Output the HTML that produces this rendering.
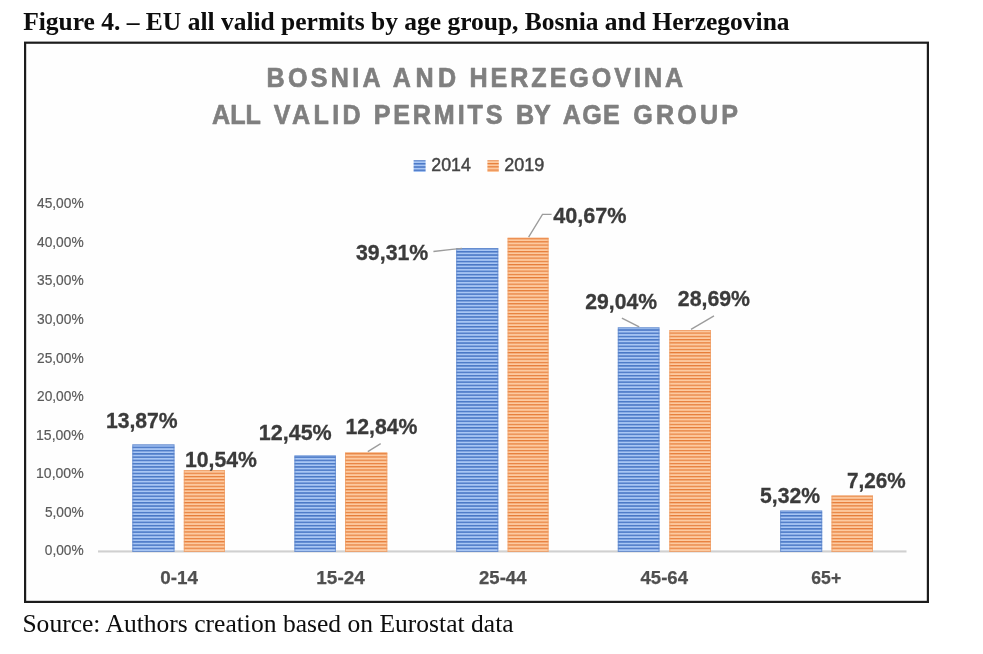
<!DOCTYPE html>
<html lang="en">
<head>
<meta charset="utf-8">
<title>Figure 4 - EU all valid permits by age group, Bosnia and Herzegovina</title>
<style>
html,body{margin:0;padding:0;background:#ffffff;}
body{width:983px;height:654px;overflow:hidden;}
svg{display:block;}
.serif{font-family:"Liberation Serif", "Times New Roman", serif;}
.sans{font-family:"Liberation Sans", Arial, sans-serif;}
</style>
</head>
<body>
<svg width="983" height="654" viewBox="0 0 983 654">
<defs>
<pattern id="pb" x="0" y="0" width="8" height="3.26" patternUnits="userSpaceOnUse"><rect x="0" y="0" width="8" height="3.26" fill="#a8c6f4"/><rect x="0" y="0" width="8" height="1.5" fill="#4a78c6"/></pattern>
<pattern id="po" x="0" y="0" width="8" height="3.26" patternUnits="userSpaceOnUse"><rect x="0" y="0" width="8" height="3.26" fill="#fdcaa0"/><rect x="0" y="0" width="8" height="1.2" fill="#e67c38"/></pattern>
<filter id="soft" x="-2%" y="-2%" width="104%" height="104%"><feGaussianBlur stdDeviation="0.55"/></filter>
</defs>
<rect x="0" y="0" width="983" height="654" fill="#ffffff"/>
<g id="all" filter="url(#soft)">
<rect x="25.1" y="42.7" width="902.8" height="559.2" fill="#fefefe" stroke="#1c1c1c" stroke-width="2.2"/>
<rect x="413.6" y="160.2" width="12" height="11.8" fill="url(#pb)"/>
<rect x="487.4" y="160.2" width="11.4" height="11.8" fill="url(#po)"/>
<rect x="98" y="550.4" width="808.5" height="2.1" fill="#d0d0d0"/>
<rect x="132.3" y="444.5" width="42.2" height="107.0" fill="url(#pb)"/>
<rect x="132.8" y="445.0" width="41.2" height="106.5" fill="none" stroke="#5f88cc" stroke-opacity="0.7" stroke-width="1"/>
<rect x="183.8" y="470.2" width="41.2" height="81.3" fill="url(#po)"/>
<rect x="184.3" y="470.7" width="40.2" height="80.8" fill="none" stroke="#f0a068" stroke-opacity="0.7" stroke-width="1"/>
<rect x="294.4" y="455.4" width="41.5" height="96.1" fill="url(#pb)"/>
<rect x="294.9" y="455.9" width="40.5" height="95.6" fill="none" stroke="#5f88cc" stroke-opacity="0.7" stroke-width="1"/>
<rect x="345.0" y="452.4" width="42.3" height="99.1" fill="url(#po)"/>
<rect x="345.5" y="452.9" width="41.3" height="98.6" fill="none" stroke="#f0a068" stroke-opacity="0.7" stroke-width="1"/>
<rect x="456.2" y="248.2" width="42.1" height="303.3" fill="url(#pb)"/>
<rect x="456.7" y="248.7" width="41.1" height="302.8" fill="none" stroke="#5f88cc" stroke-opacity="0.7" stroke-width="1"/>
<rect x="507.6" y="237.7" width="41.0" height="313.8" fill="url(#po)"/>
<rect x="508.1" y="238.2" width="40.0" height="313.3" fill="none" stroke="#f0a068" stroke-opacity="0.7" stroke-width="1"/>
<rect x="617.8" y="327.4" width="41.7" height="224.1" fill="url(#pb)"/>
<rect x="618.3" y="327.9" width="40.7" height="223.6" fill="none" stroke="#5f88cc" stroke-opacity="0.7" stroke-width="1"/>
<rect x="669.3" y="330.1" width="41.7" height="221.4" fill="url(#po)"/>
<rect x="669.8" y="330.6" width="40.7" height="220.9" fill="none" stroke="#f0a068" stroke-opacity="0.7" stroke-width="1"/>
<rect x="780.1" y="510.5" width="42.1" height="41.0" fill="url(#pb)"/>
<rect x="780.6" y="511.0" width="41.1" height="40.5" fill="none" stroke="#5f88cc" stroke-opacity="0.7" stroke-width="1"/>
<rect x="831.5" y="495.5" width="41.5" height="56.0" fill="url(#po)"/>
<rect x="832.0" y="496.0" width="40.5" height="55.5" fill="none" stroke="#f0a068" stroke-opacity="0.7" stroke-width="1"/>
<g fill="none" stroke="#9c9c9c" stroke-width="1.35">
<polyline points="380.7,443.7 367.8,451.6"/>
<polyline points="433.4,251.5 452,249.3 462,248.4"/>
<polyline points="551.6,214.4 542.5,214.4 528.6,237.2"/>
<polyline points="621.9,318.2 639.2,326.8"/>
<polyline points="714,315.8 691,329.4"/>
</g>
<text id="cap_0" class="serif" x="23.20" y="30.3" font-size="26.0" font-weight="bold" fill="#0a0a0a" textLength="766.40" lengthAdjust="spacingAndGlyphs">Figure 4. – EU all valid permits by age group, Bosnia and Herzegovina</text>
<g class="sans" font-size="27.6" font-weight="bold" fill="#7f7f7f" stroke="#7f7f7f" stroke-width="0.7" stroke-linejoin="round">
<text id="t1_0" transform="translate(266.45 86.8) scale(0.91 1)" textLength="125.56" lengthAdjust="spacing">BOSNIA</text>
<text id="t1_1" transform="translate(392.79 86.8) scale(0.91 1)" textLength="69.74" lengthAdjust="spacing">AND</text>
<text id="t1_2" transform="translate(469.39 86.8) scale(0.91 1)" textLength="235.00" lengthAdjust="spacing">HERZEGOVINA</text>
</g>
<g class="sans" font-size="27.6" font-weight="bold" fill="#7f7f7f" stroke="#7f7f7f" stroke-width="0.7" stroke-linejoin="round">
<text id="t2_0" transform="translate(211.96 124.3) scale(0.91 1)" textLength="53.82" lengthAdjust="spacing">ALL</text>
<text id="t2_1" transform="translate(273.67 124.3) scale(0.91 1)" textLength="95.65" lengthAdjust="spacing">VALID</text>
<text id="t2_2" transform="translate(373.65 124.3) scale(0.91 1)" textLength="141.51" lengthAdjust="spacing">PERMITS</text>
<text id="t2_3" transform="translate(516.02 124.3) scale(0.91 1)" textLength="38.21" lengthAdjust="spacing">BY</text>
<text id="t2_4" transform="translate(562.86 124.3) scale(0.91 1)" textLength="62.60" lengthAdjust="spacing">AGE</text>
<text id="t2_5" transform="translate(633.26 124.3) scale(0.91 1)" textLength="115.21" lengthAdjust="spacing">GROUP</text>
</g>
<text id="lg1_0" class="sans" x="431.25" y="171.1" font-size="18.0" font-weight="normal" fill="#444444" stroke="#444444" stroke-width="0.45" textLength="39.58" lengthAdjust="spacingAndGlyphs">2014</text>
<text id="lg2_0" class="sans" x="504.15" y="171.1" font-size="18.0" font-weight="normal" fill="#444444" stroke="#444444" stroke-width="0.45" textLength="40.09" lengthAdjust="spacingAndGlyphs">2019</text>
<text id="y0_0" class="sans" x="44.85" y="555.1" font-size="14.7" font-weight="normal" fill="#5a5a5a" stroke="#5a5a5a" stroke-width="0.2" textLength="38.80" lengthAdjust="spacingAndGlyphs">0,00%</text>
<text id="y1_0" class="sans" x="44.89" y="516.6" font-size="14.7" font-weight="normal" fill="#5a5a5a" stroke="#5a5a5a" stroke-width="0.2" textLength="38.77" lengthAdjust="spacingAndGlyphs">5,00%</text>
<text id="y2_0" class="sans" x="36.02" y="478.0" font-size="14.7" font-weight="normal" fill="#5a5a5a" stroke="#5a5a5a" stroke-width="0.2" textLength="47.66" lengthAdjust="spacingAndGlyphs">10,00%</text>
<text id="y3_0" class="sans" x="36.02" y="439.5" font-size="14.7" font-weight="normal" fill="#5a5a5a" stroke="#5a5a5a" stroke-width="0.2" textLength="47.66" lengthAdjust="spacingAndGlyphs">15,00%</text>
<text id="y4_0" class="sans" x="37.00" y="401.0" font-size="14.7" font-weight="normal" fill="#5a5a5a" stroke="#5a5a5a" stroke-width="0.2" textLength="46.64" lengthAdjust="spacingAndGlyphs">20,00%</text>
<text id="y5_0" class="sans" x="37.00" y="362.5" font-size="14.7" font-weight="normal" fill="#5a5a5a" stroke="#5a5a5a" stroke-width="0.2" textLength="46.64" lengthAdjust="spacingAndGlyphs">25,00%</text>
<text id="y6_0" class="sans" x="37.00" y="323.9" font-size="14.7" font-weight="normal" fill="#5a5a5a" stroke="#5a5a5a" stroke-width="0.2" textLength="46.64" lengthAdjust="spacingAndGlyphs">30,00%</text>
<text id="y7_0" class="sans" x="37.00" y="285.4" font-size="14.7" font-weight="normal" fill="#5a5a5a" stroke="#5a5a5a" stroke-width="0.2" textLength="46.64" lengthAdjust="spacingAndGlyphs">35,00%</text>
<text id="y8_0" class="sans" x="37.00" y="246.9" font-size="14.7" font-weight="normal" fill="#5a5a5a" stroke="#5a5a5a" stroke-width="0.2" textLength="46.64" lengthAdjust="spacingAndGlyphs">40,00%</text>
<text id="y9_0" class="sans" x="37.00" y="208.3" font-size="14.7" font-weight="normal" fill="#5a5a5a" stroke="#5a5a5a" stroke-width="0.2" textLength="46.64" lengthAdjust="spacingAndGlyphs">45,00%</text>
<text id="d0_0" class="sans" x="105.93" y="427.6" font-size="21.7" font-weight="bold" fill="#3a3a3a" stroke="#3a3a3a" stroke-width="0.3" textLength="71.77" lengthAdjust="spacingAndGlyphs">13,87%</text>
<text id="d1_0" class="sans" x="184.97" y="467.0" font-size="21.7" font-weight="bold" fill="#3a3a3a" stroke="#3a3a3a" stroke-width="0.3" textLength="71.95" lengthAdjust="spacingAndGlyphs">10,54%</text>
<text id="d2_0" class="sans" x="258.84" y="439.8" font-size="21.7" font-weight="bold" fill="#3a3a3a" stroke="#3a3a3a" stroke-width="0.3" textLength="72.91" lengthAdjust="spacingAndGlyphs">12,45%</text>
<text id="d3_0" class="sans" x="345.39" y="434.3" font-size="21.7" font-weight="bold" fill="#3a3a3a" stroke="#3a3a3a" stroke-width="0.3" textLength="72.03" lengthAdjust="spacingAndGlyphs">12,84%</text>
<text id="d4_0" class="sans" x="356.00" y="260.1" font-size="21.7" font-weight="bold" fill="#3a3a3a" stroke="#3a3a3a" stroke-width="0.3" textLength="72.30" lengthAdjust="spacingAndGlyphs">39,31%</text>
<text id="d5_0" class="sans" x="553.17" y="222.5" font-size="21.7" font-weight="bold" fill="#3a3a3a" stroke="#3a3a3a" stroke-width="0.3" textLength="73.35" lengthAdjust="spacingAndGlyphs">40,67%</text>
<text id="d6_0" class="sans" x="585.26" y="308.7" font-size="21.7" font-weight="bold" fill="#3a3a3a" stroke="#3a3a3a" stroke-width="0.3" textLength="71.74" lengthAdjust="spacingAndGlyphs">29,04%</text>
<text id="d7_0" class="sans" x="677.80" y="306.0" font-size="21.7" font-weight="bold" fill="#3a3a3a" stroke="#3a3a3a" stroke-width="0.3" textLength="72.20" lengthAdjust="spacingAndGlyphs">28,69%</text>
<text id="d8_0" class="sans" x="760.00" y="502.6" font-size="21.7" font-weight="bold" fill="#3a3a3a" stroke="#3a3a3a" stroke-width="0.3" textLength="60.00" lengthAdjust="spacingAndGlyphs">5,32%</text>
<text id="d9_0" class="sans" x="846.88" y="487.6" font-size="21.7" font-weight="bold" fill="#3a3a3a" stroke="#3a3a3a" stroke-width="0.3" textLength="58.68" lengthAdjust="spacingAndGlyphs">7,26%</text>
<text id="c0_0" class="sans" x="160.24" y="584.2" font-size="18.4" font-weight="bold" fill="#505050" stroke="#505050" stroke-width="0.25" textLength="37.66" lengthAdjust="spacingAndGlyphs">0-14</text>
<text id="c1_0" class="sans" x="316.34" y="584.4" font-size="18.4" font-weight="bold" fill="#505050" stroke="#505050" stroke-width="0.25" textLength="48.49" lengthAdjust="spacingAndGlyphs">15-24</text>
<text id="c2_0" class="sans" x="479.00" y="584.4" font-size="18.4" font-weight="bold" fill="#505050" stroke="#505050" stroke-width="0.25" textLength="47.48" lengthAdjust="spacingAndGlyphs">25-44</text>
<text id="c3_0" class="sans" x="640.54" y="584.4" font-size="18.4" font-weight="bold" fill="#505050" stroke="#505050" stroke-width="0.25" textLength="47.46" lengthAdjust="spacingAndGlyphs">45-64</text>
<text id="c4_0" class="sans" x="811.30" y="584.3" font-size="18.4" font-weight="bold" fill="#505050" stroke="#505050" stroke-width="0.25" textLength="29.94" lengthAdjust="spacingAndGlyphs">65+</text>
<text id="src_0" class="serif" x="22.40" y="632.4" font-size="26.2" font-weight="normal" fill="#0a0a0a" textLength="491.20" lengthAdjust="spacingAndGlyphs">Source: Authors creation based on Eurostat data</text>
</g>
</svg>
</body>
</html>
